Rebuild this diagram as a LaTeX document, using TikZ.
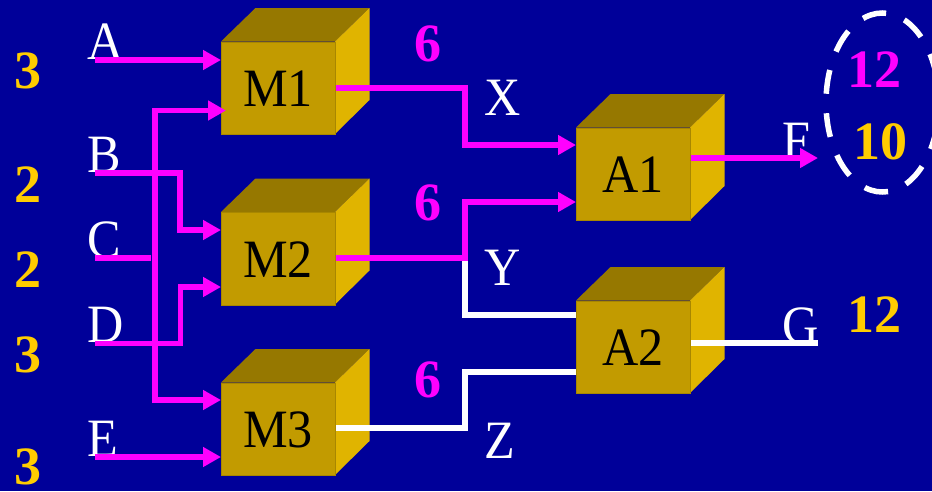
\documentclass[tikz,border=0pt]{standalone}
\usepackage{fontspec}
\setmainfont[FakeStretch=0.93]{Liberation Serif}
\newfontfamily\numfont{Liberation Serif}
\usetikzlibrary{arrows.meta,shapes.geometric}
\definecolor{bgblue}{HTML}{000099}
\definecolor{facefront}{HTML}{C29B00}
\definecolor{facetop}{HTML}{967800}
\definecolor{faceside}{HTML}{E0B400}
\definecolor{faceedge}{HTML}{A88700}
\definecolor{numyellow}{HTML}{FFCC00}
\definecolor{wiremag}{HTML}{FF00FF}
\tikzset{
  x=1pt,y=-1pt,
  front/.style={draw=faceedge,line width=1pt,fill=facefront,minimum width=114pt,minimum height=92.5pt,inner sep=0pt,anchor=north west},
  boxlabel/.style={font=\fontsize{54}{54}\selectfont,text=black,inner sep=0pt,anchor=base},
  siglabel/.style={font=\fontsize{54}{54}\selectfont,text=white,inner sep=0pt,anchor=base west},
  numlabel/.style={font=\numfont\fontsize{54}{54}\selectfont\bfseries,inner sep=0pt,anchor=base},
  wire/.style={line width=5.5pt,line join=miter},
  magwire/.style={wire,draw=wiremag},
  whitewire/.style={wire,draw=white},
  arrowwire/.style={magwire,-{Triangle[length=18pt,width=19pt,fill=wiremag]}},
}
\newcommand{\cube}[4]{%
  \fill[facetop] (#2,#3) -- ++(34.5,-33.5) -- ++(114,0) -- ++(-34.5,33.5) -- cycle;
  \fill[faceside] (#2+114,#3) -- ++(34.5,-33.5) -- ++(0,92) -- ++(-34.5,34) -- cycle;
  \node[front] (#1) at (#2,#3) {};
  \node[boxlabel] (#1t) at (#2+57,#3+65) {#4};
}
\begin{document}
\begin{tikzpicture}
\useasboundingbox (0,0) rectangle (932,491);
\fill[bgblue] (0,0) rectangle (932,491);
\cube{M1}{221}{41.5}{M1}
\cube{M2}{221}{212}{M2}
\cube{M3}{221}{382.5}{M3}
\cube{A1}{576}{127.5}{A1}
\cube{A2}{576}{300.5}{A2}
% signal labels
\node[siglabel] (A) at (87,59) {A};
\node[siglabel] (B) at (87,172) {B};
\node[siglabel] (C) at (87,257) {C};
\node[siglabel] (D) at (87,342) {D};
\node[siglabel] (E) at (87,456) {E};
\node[siglabel] (X) at (484,115.5) {X};
\node[siglabel] (Y) at (484,285.5) {Y};
\node[siglabel] (Z) at (484,458) {Z};
\node[siglabel] (F) at (782,158) {F};
\node[siglabel] (G) at (782,343) {G};
% numbers
\node[numlabel,text=numyellow] (n1) at (28,88) {3};
\node[numlabel,text=numyellow] (n2) at (28,202) {2};
\node[numlabel,text=numyellow] (n3) at (28,287) {2};
\node[numlabel,text=numyellow] (n4) at (28,372) {3};
\node[numlabel,text=numyellow] (n5) at (28,484.5) {3};
\node[numlabel,text=wiremag] (s1) at (428,61) {6};
\node[numlabel,text=wiremag] (s2) at (428,220) {6};
\node[numlabel,text=wiremag] (s3) at (428,397) {6};
\node[numlabel,text=wiremag] (r1) at (874,87) {12};
\node[numlabel,text=numyellow] (r2) at (880,159) {10};
\node[numlabel,text=numyellow] (r3) at (874,332) {12};
% free ends
\coordinate (a0) at (95,60);
\coordinate (b0) at (95,173);
\coordinate (b1) at (180,173);
\coordinate (b2) at (180,230);
\coordinate (c0) at (95,258);
\coordinate (c1) at (151,258);
\coordinate (d0) at (95,343.5);
\coordinate (d1) at (180.5,343.5);
\coordinate (d2) at (180.5,287);
\coordinate (e0) at (95,457);
\coordinate (v0) at (155,110.5);
\coordinate (v1) at (155,400);
\coordinate (m1o) at (336,88);
\coordinate (m2o) at (336,258);
\coordinate (m3o) at (336,428);
\coordinate (x1) at (465,88);
\coordinate (x2) at (465,145);
\coordinate (y0) at (465,258);
\coordinate (y1) at (465,202);
\coordinate (y2) at (465,315);
\coordinate (z1) at (465,428);
\coordinate (z2) at (465,372);
\coordinate (f0) at (691,158);
\coordinate (f1) at (818,158);
\coordinate (g0) at (691,343);
\coordinate (g1) at (818,343);
% connectors
\draw[arrowwire] (a0) -- (M1.west |- a0);
\draw[arrowwire] (b0) -- (b1) -- (b2) -- (M2.west |- b2);
\draw[magwire] (c0) -- (c1);
\draw[arrowwire] (d0) -- (d1) -- (d2) -- (M2.west |- d2);
\draw[arrowwire] (e0) -- (M3.west |- e0);
\draw[arrowwire] (v1) -- (v0) -- ([xshift=5pt]M1.west |- v0);
\draw[arrowwire] (v0) -- (v1) -- (M3.west |- v1);
\draw[arrowwire] (m1o) -- (x1) -- (x2) -- (A1.west |- x2);
\draw[whitewire] (y0) -- (y2) -- (A2.west |- y2);
\draw[arrowwire] (m2o) -- (y0) -- (y1) -- (A1.west |- y1);
\draw[whitewire] (m3o) -- (z1) -- (z2) -- (A2.west |- z2);
\draw[arrowwire] (f0) -- (f1);
\draw[whitewire] (g0) -- (g1);
% dashed ring
\node[draw=white,line width=5.5pt,ellipse,minimum width=113pt,minimum height=179pt,dash pattern=on 24pt off 19.5pt,dash phase=18pt,inner sep=0pt] (ring) at (882.5,102.5) {};
\end{tikzpicture}
\end{document}
